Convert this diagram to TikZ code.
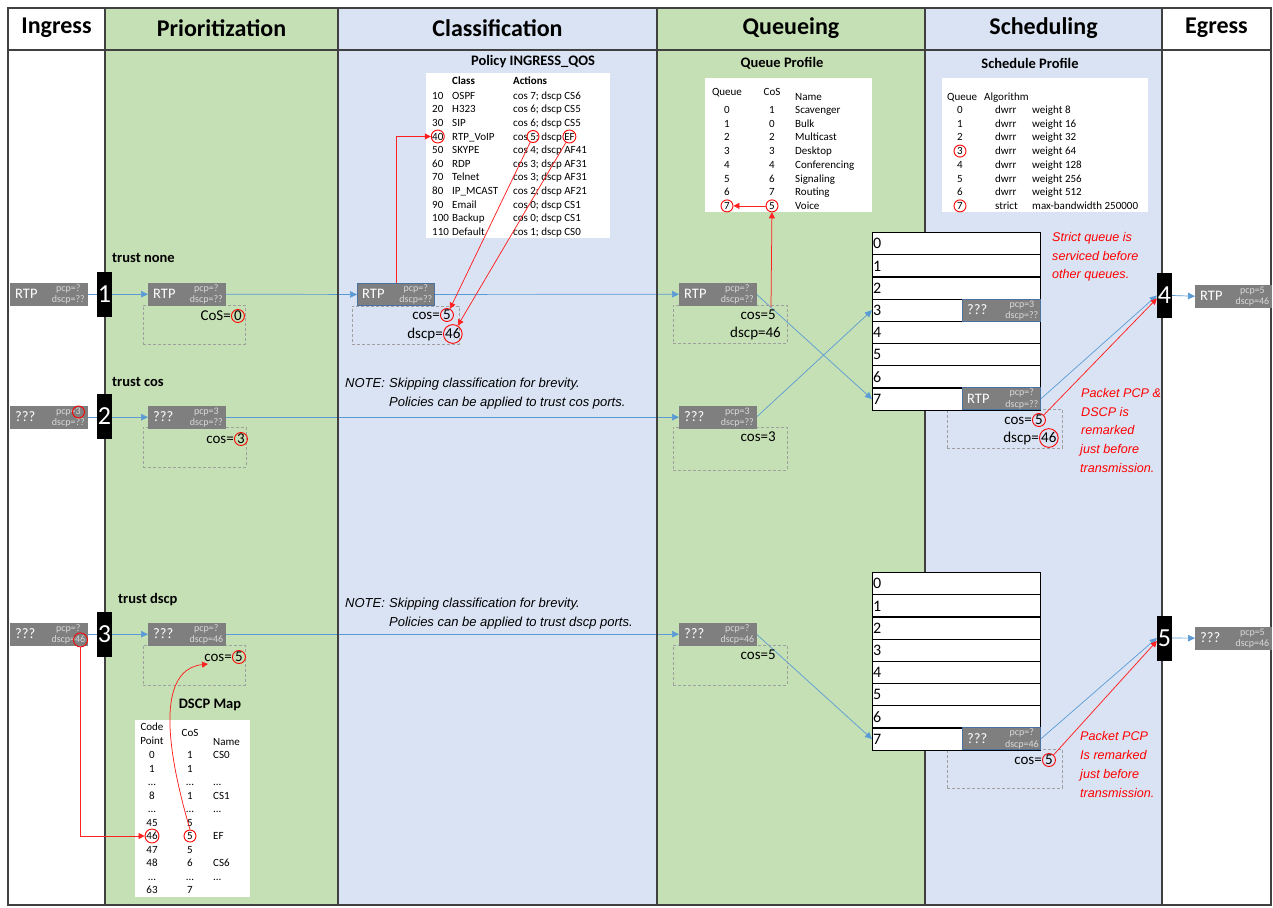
\documentclass[tikz,border=0pt]{standalone}
\usepackage{fontspec}
\setmainfont{Carlito}
\newfontfamily\arialf{Liberation Sans}
\usetikzlibrary{arrows.meta,shapes.geometric,calc}
\pgfdeclarelayer{bg}
\pgfdeclarelayer{lines}
\pgfsetlayers{bg,lines,main}
\definecolor{gcol}{HTML}{C5E0B4}
\definecolor{bcol}{HTML}{DAE3F3}
\definecolor{pgray}{HTML}{7F7F7F}
\definecolor{pbord}{HTML}{4A72A0}
\definecolor{linec}{HTML}{404040}
\definecolor{arrb}{HTML}{5B9BD5}
\definecolor{smtxt}{HTML}{D9D9D9}
\definecolor{dashc}{HTML}{A0A0A0}
\definecolor{redl}{HTML}{FF2020}
\newcommand\tdots{...}
\tikzset{
 frame/.style={draw=linec, line width=1.5pt},
 hdr/.style={font=\fontsize{24}{28}\selectfont\bfseries, inner sep=0},
 ttl/.style={font=\fontsize{14.5}{17}\selectfont\bfseries, inner sep=0},
 tbox/.style={fill=white, draw=none, inner sep=0, anchor=north west},
 tt/.style={font=\fontsize{11}{13}\selectfont, inner sep=0, text height=7pt, text depth=0pt},
 tth/.style={tt, font=\fontsize{11}{13}\selectfont\bfseries},
 pktn/.style={fill=pgray, draw=pgray, minimum width=77pt, minimum height=22pt, inner sep=0, anchor=north west},
 pktb/.style={pktn, draw=pbord, line width=0.9pt},
 plbl/.style={text=white, font=\fontsize{14.5}{16}\selectfont, inner sep=0, anchor=west, text height=9pt, text depth=0pt},
 psm/.style={text=smtxt, font=\fontsize{10}{11}\selectfont, inner sep=0, text height=6pt, text depth=1.5pt},
 port/.style={fill=black, text=white, minimum width=15pt, minimum height=45pt, inner sep=0, font=\fontsize{26}{28}\selectfont},
 dbox/.style={draw=dashc, dash pattern=on 3pt off 2pt, line width=0.8pt, inner sep=0, anchor=north west},
 lab/.style={font=\fontsize{15}{17}\selectfont, inner sep=0, text height=9.5pt, text depth=0pt},
 rclab/.style={lab, circle, draw=red, line width=0.9pt, inner sep=0.3pt},
 rcirc/.style={circle, draw=red, line width=0.9pt, inner sep=0},
 trl/.style={font=\fontsize{14.5}{17}\selectfont\bfseries, inner sep=0, anchor=west},
 note/.style={font=\arialf\itshape\fontsize{13}{15}\selectfont, inner sep=0, anchor=west, text height=9pt, text depth=0pt},
 rtext/.style={font=\arialf\itshape\fontsize{12.6}{15}\selectfont, text=red, inner sep=0, anchor=west, text height=9pt, text depth=0pt},
 qrow/.style={draw=black, line width=1.1pt, fill=white, minimum width=168pt, minimum height=22.2pt, anchor=north west, inner sep=0},
 qnum/.style={anchor=west, font=\fontsize{16}{18}\selectfont, inner sep=0},
 bl/.style={draw=arrb, line width=0.7pt},
 barr/.style={bl, -{Triangle[length=7pt,width=6.5pt]}},
 rarr/.style={draw=redl, line width=0.75pt, -{Triangle[length=6pt,width=6pt]}},
}
\newcommand\pkt[7]{%
 \node[#1] (#2) at (#3,#4) {};
 \node[plbl] (#2l) at ([xshift=5pt]#2.west) {#5};
 \node[psm] (#2p) at ([xshift=-19pt,yshift=-6pt]#2.north east) {#6};
 \node[psm] (#2d) at ([xshift=-19pt,yshift=5.5pt]#2.south east) {#7};
}
\begin{document}
\begin{tikzpicture}[x=1pt,y=-1pt]
\useasboundingbox (0,0) rectangle (1273,907);
\begin{pgfonlayer}{bg}
\fill[white] (0,0) rectangle (1273,907);
\fill[gcol] (105,8) rectangle (338,905);
\fill[bcol] (338,8) rectangle (657,905);
\fill[gcol] (657,8) rectangle (925,905);
\fill[bcol] (925,8) rectangle (1162,905);
\end{pgfonlayer}
\draw[frame] (8,8) rectangle (1271,905);
\draw[frame] (8,50) -- (1271,50);
\foreach \xx in {105,338,657,925,1162} \draw[frame] (\xx,8) -- (\xx,905);
% headers
\node[hdr] (h1) at (56.5,28) {Ingress};
\node[hdr] (h2) at (221.5,28) {Prioritization};
\node[hdr] (h3) at (497.5,28) {Classification};
\node[hdr] (h4) at (791,28) {Queueing};
\node[hdr] (h5) at (1043.5,28) {Scheduling};
\node[hdr] (h6) at (1216.5,28) {Egress};
% policy table
\node[tbox, minimum width=184pt, minimum height=165pt] (polbox) at (426,73) {};
\node[ttl] (poltitle) at (533,62) {Policy INGRESS\_QOS};
\node[tth, anchor=west] (polhc) at (452,81) {Class};
\node[tth, anchor=west] (polha) at (513,81) {Actions};
\foreach \xa/\xb/\xc [count=\i from 0] in {10/OSPF/cos 7; dscp CS6, 20/H323/cos 6; dscp CS5, 30/SIP/cos 6; dscp CS5, 40/RTP\_VoIP/cos 5; dscp EF, 50/SKYPE/cos 4; dscp AF41, 60/RDP/cos 3; dscp AF31, 70/Telnet/cos 3; dscp AF31, 80/IP\_MCAST/cos 2; dscp AF21, 90/Email/cos 0; dscp CS1, 100/Backup/cos 0; dscp CS1, 110/Default/cos 1; dscp CS0}{
 \node[tt, anchor=west] (pn\i) at (432,{95.7+13.6*\i}) {\xa};
 \node[tt, anchor=west] (pc\i) at (452,{95.7+13.6*\i}) {\xb};
 \node[tt, anchor=west] (pa\i) at (513,{95.7+13.6*\i}) {\xc};
}
\node[rcirc, minimum size=13pt] (c40) at (pn3.center) {};
\node[rcirc, minimum size=12pt] (cp5) at ([xshift=20pt]pa3.west) {};
\node[rcirc, minimum size=13pt] (cpEF) at ([xshift=56.4pt]pa3.west) {};
% queue profile
\node[tbox, minimum width=167pt, minimum height=134pt] (qpbox) at (705,78) {};
\node[ttl] (qptitle) at (782,63) {Queue Profile};
\node[tt] (qph1) at (727,92) {Queue};
\node[tt] (qph2) at (772,92) {CoS};
\node[tt, anchor=west] (qph3) at (795,97) {Name};
\foreach \xa/\xb/\xc [count=\i from 0] in {0/1/Scavenger,1/0/Bulk,2/2/Multicast,3/3/Desktop,4/4/Conferencing,5/6/Signaling,6/7/Routing,7/5/Voice}{
 \node[tt] (qpq\i) at (727,{110+13.7*\i}) {\xa};
 \node[tt] (qpc\i) at (772,{110+13.7*\i}) {\xb};
 \node[tt, anchor=west] (qpn\i) at (795,{110+13.7*\i}) {\xc};
}
\node[rcirc, minimum size=12pt] (qr7) at (qpq7.center) {};
\node[rcirc, minimum size=12pt] (qr5) at (qpc7.center) {};
% schedule profile
\node[tbox, minimum width=206pt, minimum height=134pt] (spbox) at (942,78) {};
\node[ttl] (sptitle) at (1030,63) {Schedule Profile};
\node[tt, anchor=west] (sph1) at (947,97) {Queue};
\node[tt, anchor=west] (sph2) at (984,97) {Algorithm};
\foreach \xa/\xb/\xc [count=\i from 0] in {0/dwrr/weight 8,1/dwrr/weight 16,2/dwrr/weight 32,3/dwrr/weight 64,4/dwrr/weight 128,5/dwrr/weight 256,6/dwrr/weight 512,7/strict/max-bandwidth 250000}{
 \node[tt] (sq\i) at (960,{110+13.7*\i}) {\xa};
 \node[tt, anchor=west] (sa\i) at (995,{110+13.7*\i}) {\xb};
 \node[tt, anchor=west] (sw\i) at (1032,{110+13.7*\i}) {\xc};
}
\node[rcirc, minimum size=12pt] (sr3) at (sq3.center) {};
\node[rcirc, minimum size=12pt] (sr7) at (sq7.center) {};
% DSCP map
\node[tbox, minimum width=115pt, minimum height=177pt] (dmbox) at (135,720) {};
\node[ttl] (dmtitle) at (210,705) {DSCP Map};
\node[tt] (dmh1) at (152,727) {Code};
\node[tt] (dmh2) at (152,741) {Point};
\node[tt] (dmh3) at (190,733) {CoS};
\node[tt, anchor=west] (dmh4) at (213,742) {Name};
\foreach \xa/\xb/\xc [count=\i from 0] in {0/1/CS0, 1/1/{}, \tdots/\tdots/\tdots, 8/1/CS1, \tdots/\tdots/\tdots, 45/5/{}, 46/5/EF, 47/5/{}, 48/6/CS6, \tdots/\tdots/\tdots, 63/7/{}}{
 \node[tt] (dmc\i) at (152,{755+13.5*\i}) {\xa};
 \node[tt] (dms\i) at (190,{755+13.5*\i}) {\xb};
 \node[tt, anchor=west] (dmn\i) at (213,{755+13.5*\i}) {\xc};
}
\node[rcirc, minimum size=14pt] (dm46) at (dmc6.center) {};
\node[rcirc, minimum size=12pt] (dm5) at (dms6.center) {};
% trust labels
\node[trl] (tr1) at (112,258) {trust none};
\node[trl] (tr2) at (112,382) {trust cos};
\node[trl] (tr3) at (118,600) {trust dscp};
% notes
\node[note] (n1a) at (345,383) {NOTE:};
\node[note] (n1b) at (389,383) {Skipping classification for brevity.};
\node[note] (n1c) at (389,402) {Policies can be applied to trust cos ports.};
\node[note] (n2a) at (345,603) {NOTE:};
\node[note] (n2b) at (389,603) {Skipping classification for brevity.};
\node[note] (n2c) at (389,622) {Policies can be applied to trust dscp ports.};
% dashed boxes
\node[dbox, minimum width=102pt, minimum height=39pt] (pd1) at (143,305) {};
\node[dbox, minimum width=103pt, minimum height=40pt] (pd2) at (143,427) {};
\node[dbox, minimum width=102pt, minimum height=40pt] (pd3) at (143,645) {};
\node[dbox, minimum width=107pt, minimum height=38pt] (cd1) at (352,306) {};
\node[dbox, minimum width=114pt, minimum height=38pt] (qd1) at (673,305) {};
\node[dbox, minimum width=114pt, minimum height=43pt] (qd2) at (673,427) {};
\node[dbox, minimum width=114pt, minimum height=40pt] (qd3) at (673,645) {};
\node[dbox, minimum width=115pt, minimum height=39pt] (sd1) at (947,409) {};
\node[dbox, minimum width=115pt, minimum height=39pt] (sd2) at (947,749) {};
% queue rows
\foreach \r in {0,...,7}{
 \node[qrow] (qa\r) at (872,{232+22.2*\r}) {};
 \node[qnum] (qan\r) at ([xshift=1pt]qa\r.west) {\r};
 \node[qrow] (qb\r) at (872,{572+22.2*\r}) {};
 \node[qnum] (qbn\r) at ([xshift=1pt]qb\r.west) {\r};
}
% packets
\pkt{pktn}{ip1}{10}{283}{RTP}{pcp=?}{dscp=??}
\pkt{pktn}{ip2}{10}{406}{???}{pcp=3}{dscp=??}
\pkt{pktn}{ip3}{10}{623}{???}{pcp=?}{dscp=46}
\pkt{pktn}{pp1}{148}{283}{RTP}{pcp=?}{dscp=??}
\pkt{pktn}{pp2}{148}{406}{???}{pcp=3}{dscp=??}
\pkt{pktn}{pp3}{148}{623}{???}{pcp=?}{dscp=46}
\pkt{pktb}{cp1}{357}{283}{RTP}{pcp=?}{dscp=??}
\pkt{pktn}{qp1}{679}{283}{RTP}{pcp=?}{dscp=??}
\pkt{pktn}{qp2}{679}{406}{???}{pcp=3}{dscp=??}
\pkt{pktn}{qp3}{679}{623}{???}{pcp=?}{dscp=46}
\pkt{pktb,minimum width=78pt}{sp3}{962}{299}{???}{pcp=3}{dscp=??}
\pkt{pktb,minimum width=78pt}{sp7}{962}{387.4}{RTP}{pcp=?}{dscp=??}
\pkt{pktb,minimum width=78pt}{sb7}{962}{727.4}{???}{pcp=?}{dscp=46}
\pkt{pktn,minimum width=76pt}{ep1}{1195}{285}{RTP}{pcp=5}{dscp=46}
\pkt{pktn,minimum width=76pt}{ep2}{1195}{627}{???}{pcp=5}{dscp=46}
\node[rcirc, minimum size=12pt] (ic3) at ([xshift=-2.5pt]ip2p.east) {};
\node[rcirc, minimum size=14pt] (ic46) at ([xshift=-5pt]ip3d.east) {};
% ports
\node[port] (port1) at (104.5,294.5) {1};
\node[port] (port2) at (104.5,416.5) {2};
\node[port] (port3) at (104.5,634.5) {3};
\node[port] (port4) at (1164.5,295.5) {4};
\node[port] (port5) at (1164.5,638) {5};
% value texts
\node[lab, anchor=east] (pt1) at (231,316) {CoS=};
\node[rclab, anchor=west] (pv1) at (pt1.east) {0};
\node[lab, anchor=east] (pt2) at (234,439) {cos=};
\node[rclab, anchor=west] (pv2) at (pt2.east) {3};
\node[lab, anchor=east] (pt3) at (232,657) {cos=};
\node[rclab, anchor=west] (pv3) at (pt3.east) {5};
\node[lab, anchor=east] (ct1) at (440,315) {cos=};
\node[rclab, anchor=west] (cv1) at (ct1.east) {5};
\node[lab, anchor=east] (ct2) at (443,334) {dscp=};
\node[rclab, anchor=west] (cv2) at (ct2.east) {46};
\node[lab, anchor=east] (qt1) at (776,315) {cos=5};
\node[lab, anchor=east] (qt2) at (781,333) {dscp=46};
\node[lab, anchor=east] (qt3) at (776,437) {cos=3};
\node[lab, anchor=east] (qt4) at (776,655) {cos=5};
\node[lab, anchor=east] (st1) at (1032,420) {cos=};
\node[rclab, anchor=west] (sv1) at (st1.east) {5};
\node[lab, anchor=east] (st2) at (1039,438) {dscp=};
\node[rclab, anchor=west] (sv2) at (st2.east) {46};
\node[lab, anchor=east] (st3) at (1042,760) {cos=};
\node[rclab, anchor=west] (sv3) at (st3.east) {5};
% red texts
\node[rtext] (r1) at (1052,237) {Strict queue is};
\node[rtext] (r2) at (1052,256) {serviced before};
\node[rtext] (r3) at (1052,274) {other queues.};
\node[rtext] (r4) at (1081,393) {Packet PCP \&};
\node[rtext] (r5) at (1081,412) {DSCP is};
\node[rtext] (r6) at (1081,430) {remarked};
\node[rtext] (r7) at (1080,449) {just before};
\node[rtext] (r8) at (1080,468) {transmission.};
\node[rtext] (r9) at (1080,736) {Packet PCP};
\node[rtext] (r10) at (1080,755) {Is remarked};
\node[rtext] (r11) at (1080,774) {just before};
\node[rtext] (r12) at (1080,793) {transmission.};
% blue connectors
\begin{pgfonlayer}{lines}
\draw[bl] (ip1.east) -- (ip1.east -| port1.west);
\draw[barr] (ip1.east -| port1.east) -- (pp1.west);
\draw[barr] (pp1.east) -- (cp1.west);
\draw[barr] (cp1.east) -- (qp1.west);
\draw[bl] (ip2.east) -- (ip2.east -| port2.west);
\draw[barr] (ip2.east -| port2.east) -- (pp2.west);
\draw[barr] (pp2.east) -- (qp2.west);
\draw[bl] (ip3.east) -- (ip3.east -| port3.west);
\draw[barr] (ip3.east -| port3.east) -- (pp3.west);
\draw[barr] (pp3.east) -- (qp3.west);
\draw[barr] (qp1.east) -- (qa7.west);
\draw[barr] (qp2.east) -- (qa3.west);
\draw[barr] (qp3.east) -- (qb7.west);
\draw[barr] (sp7.east) -- (port4.west);
\draw[barr] (port4.east) -- (ep1.west);
\draw[barr] (sb7.east) -- (port5.west);
\draw[barr] (port5.east) -- (ep2.west);
\end{pgfonlayer}
% red connectors
\coordinate (q5top) at (771,307);
\coordinate (p3tip) at (208,664);
\draw[rarr] (cp1.north) |- (c40.west);
\draw[rarr] (cp5) -- (cv1);
\draw[rarr] (cpEF) -- (cv2);
\draw[rarr] (q5top) -- (qr5);
\draw[rarr] (qr5) -- (qr7);
\draw[rarr] (ic46.south) |- (dm46.west);
\draw[rarr] (dm5.north) .. controls (155,710) and (170,668) .. (p3tip);
\draw[rarr] (sv1) -- ([yshift=-3pt]port4.west);
\draw[rarr] (sv3) -- ([yshift=-3pt]port5.west);
\end{tikzpicture}
\end{document}
